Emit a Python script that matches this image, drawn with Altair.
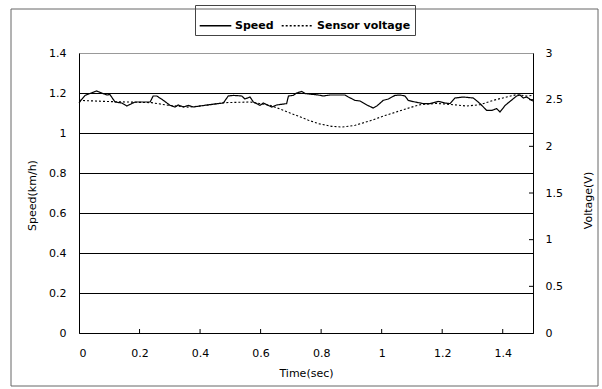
import altair as alt
import pandas as pd

# ---- data ----
speed_t = [0.000, 0.020, 0.058, 0.075, 0.092, 0.102, 0.119, 0.141, 0.158, 0.174,
           0.185, 0.235, 0.245, 0.257, 0.279, 0.301, 0.317, 0.328, 0.345, 0.361,
           0.378, 0.400, 0.422, 0.477, 0.493, 0.510, 0.538, 0.548, 0.565, 0.576,
           0.587, 0.598, 0.609, 0.625, 0.637, 0.653, 0.686, 0.692, 0.708, 0.719,
           0.736, 0.747, 0.791, 0.807, 0.829, 0.879, 0.890, 0.912, 0.929, 0.951,
           0.972, 0.984, 1.005, 1.022, 1.044, 1.061, 1.077, 1.088, 1.110, 1.138,
           1.160, 1.187, 1.209, 1.226, 1.242, 1.270, 1.303, 1.325, 1.347, 1.364,
           1.380, 1.391, 1.408, 1.424, 1.446, 1.457, 1.468, 1.479, 1.496, 1.500]
speed_v = [1.151, 1.188, 1.210, 1.200, 1.190, 1.193, 1.155, 1.150, 1.135, 1.147,
           1.155, 1.155, 1.185, 1.185, 1.163, 1.138, 1.130, 1.140, 1.130, 1.138,
           1.130, 1.135, 1.140, 1.150, 1.185, 1.188, 1.185, 1.170, 1.180, 1.155,
           1.147, 1.138, 1.150, 1.138, 1.130, 1.140, 1.147, 1.185, 1.188, 1.200,
           1.208, 1.197, 1.190, 1.185, 1.190, 1.190, 1.180, 1.163, 1.160, 1.140,
           1.125, 1.135, 1.163, 1.170, 1.188, 1.190, 1.185, 1.163, 1.155, 1.147,
           1.147, 1.158, 1.150, 1.147, 1.175, 1.180, 1.175, 1.147, 1.113, 1.113,
           1.122, 1.105, 1.138, 1.158, 1.185, 1.190, 1.175, 1.180, 1.163, 1.160]

volt_t = [0.000, 0.020, 0.096, 0.240, 0.294, 0.360, 0.422, 0.477, 0.565, 0.631,
          0.675, 0.719, 0.758, 0.791, 0.835, 0.868, 0.912, 0.967, 1.011, 1.055,
          1.099, 1.127, 1.182, 1.237, 1.281, 1.325, 1.369, 1.413, 1.446, 1.479, 1.500]
volt_v = [2.493, 2.490, 2.480, 2.468, 2.440, 2.420, 2.440, 2.468, 2.475, 2.440,
          2.386, 2.330, 2.280, 2.243, 2.214, 2.207, 2.225, 2.279, 2.330, 2.375,
          2.420, 2.446, 2.460, 2.446, 2.432, 2.446, 2.493, 2.529, 2.554, 2.539, 2.546]

series_names = ["Speed", "Sensor voltage"]
x_ticks = [0, 0.2, 0.4, 0.6, 0.8, 1.0, 1.2, 1.4]
speed_ticks = [0, 0.2, 0.4, 0.6, 0.8, 1.0, 1.2, 1.4]
volt_ticks = [0, 0.5, 1.0, 1.5, 2.0, 2.5, 3.0]

FONT = "DejaVu Sans"

speed_df = pd.DataFrame({"t": speed_t, "val": speed_v, "series": series_names[0]})
volt_df = pd.DataFrame({"t": volt_t, "val": volt_v, "series": series_names[1]})
xtick_df = pd.DataFrame({"t": x_ticks[1:]})
vtick_df = pd.DataFrame({"val": volt_ticks[1:-1]})
frame_df = pd.DataFrame({"a": [0]})

x_enc = alt.X(
    "t:Q",
    scale=alt.Scale(domain=[0, 1.5], nice=False, zero=False),
    axis=alt.Axis(
        values=x_ticks, format="~g", title="Time(sec)", grid=False,
        ticks=False, tickSize=0, labelPadding=14, domainColor="black",
        labelFont=FONT, labelFontSize=11, labelColor="black",
        titleFont=FONT, titleFontSize=11, titleFontWeight="normal", titleColor="black",
        titleBaseline="middle", titleY=40,
    ),
)

dash = alt.StrokeDash(
    "series:N",
    scale=alt.Scale(domain=series_names, range=[[1, 0], [2, 2]]),
    legend=alt.Legend(
        title=None, orient="none", legendX=116, legendY=-48, direction="horizontal",
        symbolType="stroke", symbolSize=1000, symbolStrokeWidth=1.3, symbolStrokeColor="black",
        labelFont=FONT, labelFontSize=11, labelFontWeight="bold", labelColor="black",
        strokeColor="#444", padding=4, columnPadding=5, labelOffset=3,
    ),
)

speed_axis = alt.Axis(
    values=speed_ticks, format="~g", title="Speed(km/h)", grid=True,
    gridColor={"condition": {"test": "datum.value > 1.39", "value": "#999999"}, "value": "black"},
    gridOpacity=1, gridWidth=1, ticks=False, tickSize=0, labelPadding=13,
    domainColor="black", labelFont=FONT, labelFontSize=11, labelColor="black",
    titleFont=FONT, titleFontSize=11, titleFontWeight="normal", titleColor="black",
    titleX=-47, titleY=142, titleAngle=270, titleBaseline="middle",
)

volt_axis = alt.Axis(
    values=volt_ticks, format="~g", title="Voltage(V)", orient="right", grid=False,
    ticks=False, tickSize=0, labelPadding=12, domainColor="black",
    labelFont=FONT, labelFontSize=11, labelColor="black",
    titleFont=FONT, titleFontSize=11, titleFontWeight="normal", titleColor="black",
    titleX=55, titleY=147, titleAngle=270, titleBaseline="middle",
)

speed_y = alt.Y("val:Q", scale=alt.Scale(domain=[0, 1.4], nice=False), axis=speed_axis)
volt_y = alt.Y("val:Q", scale=alt.Scale(domain=[0, 3], nice=False), axis=volt_axis)

speed_line = alt.Chart(speed_df).mark_line(color="black", strokeWidth=1.2).encode(
    x=x_enc, y=speed_y, strokeDash=dash
)
xticks_layer = alt.Chart(xtick_df).mark_rule(color="black", strokeWidth=1).encode(
    x=alt.X("t:Q"), y=alt.value(280), y2=alt.value(276)
)
frame = alt.Chart(frame_df).mark_rect(
    fill=None, filled=False, stroke="#666666", strokeWidth=1, clip=False
).encode(
    x=alt.value(-68), x2=alt.value(519), y=alt.value(-44), y2=alt.value(333)
)
speed_group = alt.layer(frame, speed_line, xticks_layer)

volt_line = alt.Chart(volt_df).mark_line(color="black", strokeWidth=1.1).encode(
    x=alt.X("t:Q"), y=volt_y, strokeDash=dash
)
volt_tick_layer = alt.Chart(vtick_df).mark_rule(color="black", strokeWidth=1).encode(
    y=volt_y, x=alt.value(454), x2=alt.value(450)
)
volt_group = alt.layer(volt_line, volt_tick_layer)

chart = alt.layer(speed_group, volt_group).resolve_scale(y="independent").properties(
    width=454, height=280,
    padding={"left": 79, "top": 53, "right": 69, "bottom": 56},
    autosize=alt.AutoSizeParams(type="none"),
    background="white",
).configure_view(stroke="#999999", strokeWidth=1)

chart.save("out.html", embed_options={"renderer": "svg", "actions": False})
